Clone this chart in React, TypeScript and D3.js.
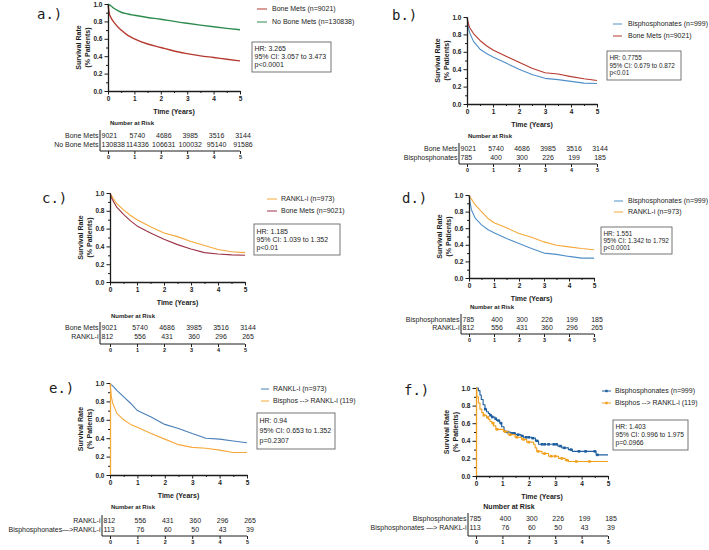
import React, { useEffect, useRef } from 'react';
import * as d3 from 'd3';

const W = 709;
const H = 550;

// ---- survival estimates (years -> surviving fraction) ----
const yearsGrid = [0, 0.05, 0.1, 0.25, 0.5, 0.75, 1, 1.5, 2, 2.5, 3, 3.5, 4, 4.5, 5];

const aBoneMets = [1, 0.89, 0.85, 0.78, 0.7, 0.64, 0.6, 0.54, 0.5, 0.46, 0.43, 0.404, 0.385, 0.365, 0.346];
const aNoBoneMets = [1, 0.99, 0.98, 0.945, 0.905, 0.885, 0.87, 0.845, 0.825, 0.8, 0.778, 0.757, 0.738, 0.72, 0.704];

const bBisphos = [1, 0.88, 0.82, 0.72, 0.63, 0.58, 0.54, 0.47, 0.4, 0.34, 0.295, 0.28, 0.26, 0.24, 0.235];
const bBoneMets = [1, 0.93, 0.88, 0.81, 0.73, 0.67, 0.62, 0.55, 0.48, 0.41, 0.36, 0.345, 0.315, 0.29, 0.27];

const cRankl = [1, 0.97, 0.95, 0.88, 0.81, 0.75, 0.7, 0.62, 0.55, 0.51, 0.455, 0.41, 0.365, 0.34, 0.33];
const cBoneMets = [1, 0.95, 0.92, 0.84, 0.76, 0.69, 0.63, 0.55, 0.48, 0.42, 0.37, 0.33, 0.315, 0.305, 0.3];

const dBisphos = [1, 0.9, 0.82, 0.72, 0.64, 0.585, 0.545, 0.475, 0.415, 0.355, 0.3, 0.285, 0.26, 0.24, 0.24];
const dRankl = [1, 0.97, 0.95, 0.88, 0.8, 0.72, 0.665, 0.605, 0.535, 0.49, 0.435, 0.395, 0.375, 0.355, 0.34];

const eRankl = [1, 0.98, 0.97, 0.92, 0.85, 0.78, 0.7, 0.63, 0.55, 0.505, 0.45, 0.4, 0.39, 0.37, 0.35];
const eSwitch = [1, 0.85, 0.78, 0.67, 0.6, 0.55, 0.52, 0.45, 0.39, 0.33, 0.3, 0.29, 0.27, 0.245, 0.245];

// panel f: stepwise Kaplan-Meier with censor marks
const fBisphosT = [0, 0.09, 0.15, 0.2, 0.27, 0.34, 0.4, 0.47, 0.53, 0.6, 0.72, 0.78, 0.9, 0.97, 1.06, 1.1, 1.3, 1.5, 1.7, 1.8, 2.1, 2.25, 2.37, 3.0, 3.1, 3.25, 3.5, 3.65, 4.4, 4.55, 5];
const fBisphosS = [1, 0.97, 0.92, 0.87, 0.81, 0.76, 0.73, 0.71, 0.69, 0.67, 0.65, 0.63, 0.6, 0.56, 0.52, 0.5, 0.485, 0.47, 0.455, 0.44, 0.43, 0.4, 0.36, 0.36, 0.34, 0.32, 0.3, 0.28, 0.28, 0.24, 0.24];
const fBisphosCensor = [0.35, 0.55, 0.62, 0.75, 0.85, 0.95, 1.2, 1.35, 1.45, 1.6, 1.75, 1.9, 2.0, 2.15, 2.3, 2.5, 2.6, 2.75, 2.95, 3.05, 3.2, 3.35, 3.6, 3.9, 4.15, 4.5, 4.6];
const fSwitchT = [0, 0.03, 0.09, 0.15, 0.22, 0.28, 0.4, 0.47, 0.53, 0.6, 0.66, 0.75, 0.98, 1.04, 1.22, 1.48, 1.73, 1.92, 2.18, 2.24, 2.3, 2.5, 2.75, 3.13, 3.38, 3.5, 5];
const fSwitchS = [1, 0.9, 0.83, 0.76, 0.72, 0.69, 0.665, 0.645, 0.62, 0.6, 0.57, 0.53, 0.53, 0.505, 0.47, 0.44, 0.415, 0.385, 0.36, 0.32, 0.28, 0.255, 0.225, 0.2, 0.18, 0.165, 0.165];
const fSwitchCensor = [0.3, 0.45, 0.65, 0.8, 1.1, 1.3, 1.55, 1.8, 2.0, 2.35, 2.6, 2.85, 3.0, 3.25, 3.45, 3.8, 4.3];

// ---- number at risk ----
const riskYears = [0, 1, 2, 3, 4, 5];
const riskBoneMets = [9021, 5740, 4686, 3985, 3516, 3144];
const riskNoBoneMets = [130838, 114336, 106631, 100032, 95140, 91586];
const riskBisphos = [785, 400, 300, 226, 199, 185];
const riskRankl = [812, 556, 431, 360, 296, 265];
const riskSwitch = [113, 76, 60, 50, 43, 39];

const RED = '#b5392f';
const GREEN = '#2e8b4e';
const LBLUE = '#4f8fc8';
const MAROON = '#9d3347';
const ORANGE = '#f5a83a';
const BLUE_E = '#4a7fb8';
const DBLUE = '#1f5e9e';
const ORANGE_F = '#f29f1c';
const INK = '#1c1c1c';
const SANS = '"Liberation Sans", Arial, sans-serif';

type Series = {
  name: string;
  color: string;
  t: number[];
  s: number[];
  kind: 'smooth' | 'linear' | 'step';
  censor?: number[];
};

type Panel = {
  label: string;
  labelX: number;
  labelY: number;
  x0: number;
  x1: number;
  yTop: number;
  yBot: number;
  axisTint?: string;
  lw: number;
  series: Series[];
  legendX: number;
  legendW: number;
  legendTextX: number;
  legendY: number[];
  box: [number, number, number, number];
  hrSize: number;
  hr: string[];
  tableX: number;
  titleX: number;
  titleY: number;
  titleSize: number;
  rowY: number[];
  tableAxisY: number;
  rows: { name: string; counts: number[] }[];
};

const panels: Panel[] = [
  {
    label: 'a.)', labelX: 37, labelY: 19,
    x0: 108, x1: 240, yTop: 4, yBot: 91, lw: 1.4,
    series: [
      { name: 'Bone Mets (n=9021)', color: RED, t: yearsGrid, s: aBoneMets, kind: 'smooth' },
      { name: 'No Bone Mets (n=130838)', color: GREEN, t: yearsGrid, s: aNoBoneMets, kind: 'smooth' },
    ],
    legendX: 257, legendW: 10, legendTextX: 272, legendY: [9, 22],
    box: [252, 42, 79, 30], hrSize: 7,
    hr: ['HR: 3.265', '95% CI: 3.057 to 3.473', 'p<0.0001'],
    tableX: 100, titleX: 132, titleY: 123, titleSize: 6, rowY: [136, 145], tableAxisY: 151,
    rows: [
      { name: 'Bone Mets', counts: riskBoneMets },
      { name: 'No Bone Mets', counts: riskNoBoneMets },
    ],
  },
  {
    label: 'b.)', labelX: 392, labelY: 20,
    x0: 467, x1: 597, yTop: 17, yBot: 104, lw: 1.1,
    series: [
      { name: 'Bisphosphonates (n=999)', color: LBLUE, t: yearsGrid, s: bBisphos, kind: 'linear' },
      { name: 'Bone Mets (n=9021)', color: RED, t: yearsGrid, s: bBoneMets, kind: 'linear' },
    ],
    legendX: 613, legendW: 9, legendTextX: 628, legendY: [24, 36],
    box: [607, 51, 74, 29], hrSize: 6.4,
    hr: ['HR: 0.7755', '95% CI: 0.679 to 0.872', 'p<0.01'],
    tableX: 459, titleX: 490, titleY: 136, titleSize: 6, rowY: [149, 158], tableAxisY: 164,
    rows: [
      { name: 'Bone Mets', counts: riskBoneMets },
      { name: 'Bisphosphonates', counts: riskBisphos },
    ],
  },
  {
    label: 'c.)', labelX: 42, labelY: 203,
    x0: 110, x1: 245, yTop: 193, yBot: 282, lw: 1.1,
    series: [
      { name: 'RANKL-i (n=973)', color: ORANGE, t: yearsGrid, s: cRankl, kind: 'linear' },
      { name: 'Bone Mets (n=9021)', color: MAROON, t: yearsGrid, s: cBoneMets, kind: 'linear' },
    ],
    legendX: 267, legendW: 10, legendTextX: 281, legendY: [199, 211],
    box: [254, 224, 86, 31], hrSize: 7,
    hr: ['HR: 1.185', '95% CI: 1.039 to 1.352', 'p<0.01'],
    tableX: 100, titleX: 133, titleY: 316, titleSize: 6, rowY: [328, 337], tableAxisY: 344,
    rows: [
      { name: 'Bone Mets', counts: riskBoneMets },
      { name: 'RANKL-i', counts: riskRankl },
    ],
  },
  {
    label: 'd.)', labelX: 402, labelY: 203,
    x0: 469, x1: 594, yTop: 195, yBot: 278, lw: 1.1,
    series: [
      { name: 'Bisphosphonates (n=999)', color: LBLUE, t: yearsGrid, s: dBisphos, kind: 'linear' },
      { name: 'RANKL-i (n=973)', color: ORANGE, t: yearsGrid, s: dRankl, kind: 'linear' },
    ],
    legendX: 614, legendW: 9, legendTextX: 628, legendY: [201, 212],
    box: [601, 227, 71, 27], hrSize: 6.4,
    hr: ['HR: 1.551', '95% CI: 1.342 to 1.792', 'p<0.0001'],
    tableX: 461, titleX: 492, titleY: 307, titleSize: 6, rowY: [320, 328], tableAxisY: 334,
    rows: [
      { name: 'Bisphosphonates', counts: riskBisphos },
      { name: 'RANKL-i', counts: riskRankl },
    ],
  },
  {
    label: 'e.)', labelX: 49, labelY: 393,
    x0: 110, x1: 247, yTop: 383, yBot: 475, lw: 1.1, axisTint: ORANGE,
    series: [
      { name: 'RANKL-i (n=973)', color: BLUE_E, t: yearsGrid, s: eRankl, kind: 'linear' },
      { name: 'Bisphos --> RANKL-i (119)', color: ORANGE, t: yearsGrid, s: eSwitch, kind: 'linear' },
    ],
    legendX: 261, legendW: 8, legendTextX: 273, legendY: [389, 401],
    box: [257, 413, 78, 36], hrSize: 7,
    hr: ['HR: 0.94', '95% CI: 0.653 to 1.352', 'p=0.2307'],
    tableX: 102, titleX: 133, titleY: 507, titleSize: 6, rowY: [521, 530], tableAxisY: 536,
    rows: [
      { name: 'RANKL-i', counts: riskRankl },
      { name: 'Bisphosphonates\u2014>RANKL-i', counts: riskSwitch },
    ],
  },
  {
    label: 'f.)', labelX: 404, labelY: 395,
    x0: 476, x1: 608, yTop: 388, yBot: 476, lw: 1.1, axisTint: ORANGE_F,
    series: [
      { name: 'Bisphosphonates (n=999)', color: DBLUE, t: fBisphosT, s: fBisphosS, kind: 'step', censor: fBisphosCensor },
      { name: 'Bisphos --> RANKL-i (119)', color: ORANGE_F, t: fSwitchT, s: fSwitchS, kind: 'step', censor: fSwitchCensor },
    ],
    legendX: 602, legendW: 9, legendTextX: 615, legendY: [391, 403],
    box: [613, 420, 75, 30], hrSize: 6.7,
    hr: ['HR: 1.403', '95% CI: 0.996 to 1.975', 'p=0.0966'],
    tableX: 468, titleX: 509, titleY: 507, titleSize: 7, rowY: [519, 528], tableAxisY: 536,
    rows: [
      { name: 'Bisphosphonates', counts: riskBisphos },
      { name: 'Bisphosphonates \u2014> RANKL-i', counts: riskSwitch },
    ],
  },
];

const styleAxis = (sel: any) => {
  sel.attr('font-family', SANS).attr('font-size', 6.5).attr('font-weight', 'bold');
  sel.selectAll('text').attr('fill', INK);
  sel.selectAll('line').attr('stroke', INK).attr('stroke-width', 1);
};

function drawPanel(root: any, p: Panel) {
  const x = d3.scaleLinear().domain([0, 5]).range([p.x0, p.x1]);
  const y = d3.scaleLinear().domain([0, 1]).range([p.yBot, p.yTop]);
  const g = root.append('g');

  // panel letter
  g.append('text')
    .attr('x', p.labelX).attr('y', p.labelY)
    .attr('font-family', '"DejaVu Sans Mono", monospace')
    .attr('font-size', 14).attr('fill', INK)
    .text(p.label);

  // curves
  p.series.forEach((s) => {
    const pts: [number, number][] = s.t.map((t, i) => [t, s.s[i]]);
    const curve = s.kind === 'step' ? d3.curveStepAfter : s.kind === 'smooth' ? d3.curveMonotoneX : d3.curveLinear;
    const line = d3.line<[number, number]>().x((d) => x(d[0])).y((d) => y(d[1])).curve(curve);
    g.append('path')
      .attr('d', line(pts))
      .attr('fill', 'none')
      .attr('stroke', s.color)
      .attr('stroke-width', p.lw)
      .attr('stroke-linejoin', 'round');
    if (s.censor) {
      const at = (t: number) => s.s[Math.max(0, d3.bisectRight(s.t, t) - 1)];
      g.selectAll(null)
        .data(s.censor)
        .enter()
        .append('rect')
        .attr('x', (t: number) => x(t) - 1.3)
        .attr('y', (t: number) => y(at(t)) - 1.3)
        .attr('width', 2.6).attr('height', 2.6)
        .attr('fill', s.color);
    }
  });

  // y axis
  const yMajor = g.append('g')
    .attr('transform', `translate(${p.x0},0)`)
    .call(d3.axisLeft(y).tickValues([0, 0.2, 0.4, 0.6, 0.8, 1]).tickFormat(d3.format('.1f')).tickSize(3.5).tickPadding(2).tickSizeOuter(0));
  styleAxis(yMajor);
  yMajor.select('.domain').attr('stroke', p.axisTint || INK).attr('stroke-width', 1.3);
  const yMinor = g.append('g')
    .attr('transform', `translate(${p.x0},0)`)
    .call(d3.axisLeft(y).tickValues([0.1, 0.3, 0.5, 0.7, 0.9]).tickFormat(() => '').tickSize(2));
  yMinor.select('.domain').remove();
  styleAxis(yMinor);

  // x axis
  const xMajor = g.append('g')
    .attr('transform', `translate(0,${p.yBot})`)
    .call(d3.axisBottom(x).tickValues(riskYears).tickFormat(d3.format('d')).tickSize(3.5).tickPadding(1.5).tickSizeOuter(0));
  styleAxis(xMajor);
  xMajor.select('.domain').attr('stroke', INK).attr('stroke-width', 1.3);
  const xMinor = g.append('g')
    .attr('transform', `translate(0,${p.yBot})`)
    .call(d3.axisBottom(x).tickValues([0.5, 1.5, 2.5, 3.5, 4.5]).tickFormat(() => '').tickSize(2));
  xMinor.select('.domain').remove();
  styleAxis(xMinor);

  // axis titles
  const midY = (p.yTop + p.yBot) / 2;
  ['Survival Rate', '(% Patients)'].forEach((t, i) => {
    g.append('text')
      .attr('transform', `translate(${p.x0 - 29 + i * 8.5},${midY}) rotate(-90)`)
      .attr('text-anchor', 'middle').attr('dy', '0.35em')
      .attr('font-family', SANS).attr('font-size', 7).attr('font-weight', 'bold').attr('fill', INK)
      .text(t);
  });
  g.append('text')
    .attr('x', (p.x0 + p.x1) / 2).attr('y', p.yBot + 21).attr('dy', '0.35em')
    .attr('text-anchor', 'middle')
    .attr('font-family', SANS).attr('font-size', 7).attr('font-weight', 'bold').attr('fill', INK)
    .text('Time (Years)');

  // legend
  p.series.forEach((s, i) => {
    const ly = p.legendY[i];
    g.append('line')
      .attr('x1', p.legendX).attr('x2', p.legendX + p.legendW)
      .attr('y1', ly).attr('y2', ly)
      .attr('stroke', s.color).attr('stroke-width', 1);
    if (s.censor) {
      g.append('rect')
        .attr('x', p.legendX + p.legendW / 2 - 1.2).attr('y', ly - 1.2)
        .attr('width', 2.4).attr('height', 2.4).attr('fill', s.color);
    }
    g.append('text')
      .attr('x', p.legendTextX).attr('y', ly).attr('dy', '0.35em')
      .attr('font-family', SANS).attr('font-size', 7).attr('fill', INK)
      .text(s.name);
  });

  // hazard ratio box
  const [bx, by, bw, bh] = p.box;
  g.append('rect')
    .attr('x', bx).attr('y', by).attr('width', bw).attr('height', bh)
    .attr('fill', 'white').attr('stroke', '#666').attr('stroke-width', 0.9);
  const gap = (bh - 6) / 3;
  p.hr.forEach((t, i) => {
    g.append('text')
      .attr('x', bx + 2.5).attr('y', by + 3 + gap * (i + 0.5)).attr('dy', '0.35em')
      .attr('font-family', SANS).attr('font-size', p.hrSize).attr('fill', INK)
      .text(t);
  });

  // number at risk table
  g.append('text')
    .attr('x', p.titleX).attr('y', p.titleY).attr('dy', '0.35em')
    .attr('text-anchor', 'middle')
    .attr('font-family', SANS).attr('font-size', p.titleSize).attr('font-weight', 'bold').attr('fill', INK)
    .text('Number at Risk');
  g.append('line')
    .attr('x1', p.tableX).attr('x2', p.tableX)
    .attr('y1', p.rowY[0] - 6).attr('y2', p.tableAxisY)
    .attr('stroke', INK).attr('stroke-width', 1);
  g.append('line')
    .attr('x1', p.tableX).attr('x2', p.x1)
    .attr('y1', p.tableAxisY).attr('y2', p.tableAxisY)
    .attr('stroke', INK).attr('stroke-width', 1);
  const tAxis = g.append('g')
    .attr('transform', `translate(0,${p.tableAxisY})`)
    .call(d3.axisBottom(x).tickValues(riskYears).tickFormat(d3.format('d')).tickSize(3).tickPadding(1));
  tAxis.select('.domain').remove();
  styleAxis(tAxis);
  tAxis.attr('font-size', 5.5);

  p.rows.forEach((r, i) => {
    const ry = p.rowY[i];
    g.append('text')
      .attr('x', p.tableX - 1.5).attr('y', ry).attr('dy', '0.35em')
      .attr('text-anchor', 'end')
      .attr('font-family', SANS).attr('font-size', 7).attr('fill', INK)
      .text(r.name);
    r.counts.forEach((c, j) => {
      g.append('text')
        .attr('x', j === 0 ? p.tableX + 1.5 : x(riskYears[j]) + 3)
        .attr('y', ry).attr('dy', '0.35em')
        .attr('text-anchor', j === 0 ? 'start' : 'middle')
        .attr('font-family', SANS).attr('font-size', 7).attr('fill', INK)
        .text(String(c));
    });
  });
}

const App = () => {
  const svgRef = useRef<SVGSVGElement>(null);

  useEffect(() => {
    const svg = d3.select(svgRef.current);
    svg.selectAll('*').remove();
    svg.append('rect').attr('width', W).attr('height', H).attr('fill', 'white');
    panels.forEach((p) => drawPanel(svg, p));
  }, []);

  return (
    <svg
      ref={svgRef}
      width={W}
      height={H}
      style={{ position: 'absolute', left: 0, top: 0, display: 'block' }}
    />
  );
};

export default App;
